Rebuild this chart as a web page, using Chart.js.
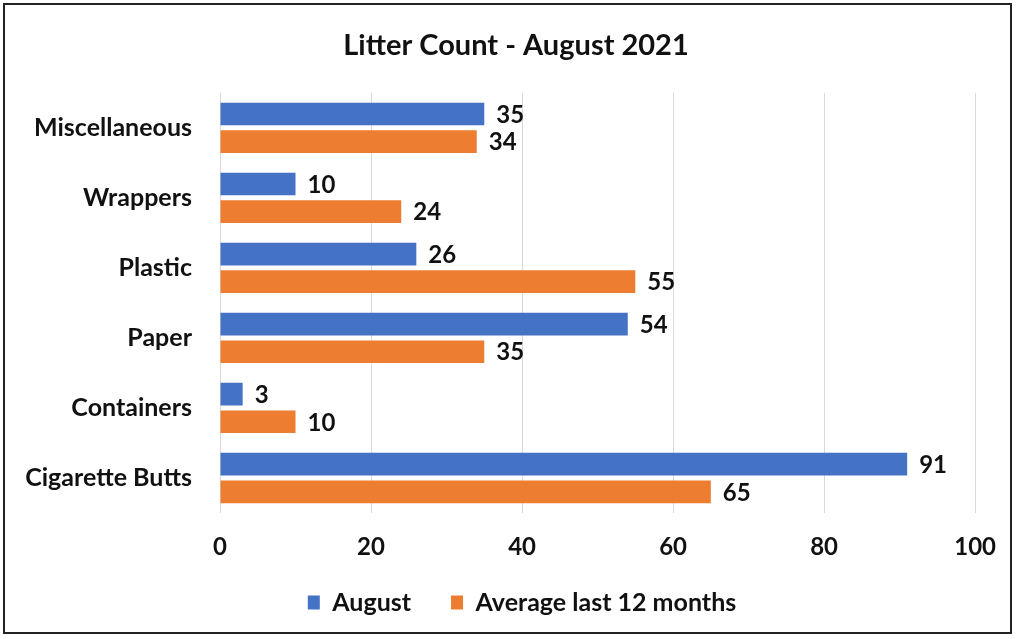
<!DOCTYPE html>
<html>
<head>
<meta charset="utf-8">
<script src="https://cdn.jsdelivr.net/npm/chart.js@4/dist/chart.umd.min.js"></script>
<style>
  body { margin: 0; background: #fff; }
  #wrap { position: relative; width: 1016px; height: 639px; }
  #frame { position: absolute; left: 3px; top: 3px; width: 1005px; height: 627px; border: 2px solid #222; pointer-events: none; }
</style>
</head>
<body>
<div id="wrap">
  <canvas id="chart" width="1016" height="639"></canvas>
  <div id="frame"></div>
</div>
<script>
const categories = ["Miscellaneous", "Wrappers", "Plastic", "Paper", "Containers", "Cigarette Butts"];
const august = [35, 10, 26, 54, 3, 91];
const avg12 = [34, 24, 55, 35, 10, 65];
const seriesNames = ["August", "Average last 12 months"];

const FONT = "Lato, 'Open Sans', sans-serif";

// values written just past the end of each bar
const barLabels = {
    id: "barLabels",
    afterDatasetsDraw(chart) {
        const {ctx} = chart;
        ctx.save();
        ctx.font = "bold 24px " + FONT;
        ctx.fillStyle = "#111";
        ctx.textAlign = "left";
        ctx.textBaseline = "middle";
        chart.data.datasets.forEach((ds, i) => {
            chart.getDatasetMeta(i).data.forEach((bar, j) => {
                ctx.fillText(ds.data[j], bar.x + 12, bar.y + 1);
            });
        });
        ctx.restore();
    }
};

// title and legend sit a bit right of the canvas centre in the original
const nudgeBoxes = {
    id: "nudgeBoxes",
    afterLayout(chart) {
        chart.titleBlock.left = 54;
        const lg = chart.legend;
        lg.left = 66;
        lg.top = 550;
        lg.bottom = lg.top + lg.height;
    }
};

new Chart(document.getElementById("chart").getContext("2d"), {
    type: "bar",
    data: {
        labels: categories,
        datasets: [
            {label: seriesNames[0], data: august, backgroundColor: "#4472C4",
             categoryPercentage: 0.79, barPercentage: 0.82},
            {label: seriesNames[1], data: avg12, backgroundColor: "#ED7D31",
             categoryPercentage: 0.79, barPercentage: 0.82}
        ]
    },
    options: {
        indexAxis: "y",
        responsive: false,
        animation: false,
        layout: {padding: {left: 0, right: 38, top: 0, bottom: 2}},
        plugins: {
            title: {
                display: true,
                text: "Litter Count - August 2021",
                color: "#111",
                font: {family: FONT, size: 29, weight: "bold"},
                padding: {top: 28, bottom: 30}
            },
            legend: {
                position: "bottom",
                labels: {
                    color: "#111",
                    font: {family: FONT, size: 25, weight: "bold"},
                    boxWidth: 12, boxHeight: 14, padding: 40
                }
            },
            tooltip: {enabled: false}
        },
        scales: {
            x: {
                min: 0, max: 100,
                ticks: {stepSize: 20, color: "#111", padding: 20,
                        font: {family: FONT, size: 24, weight: "bold"}},
                grid: {color: "#d9d9d9", drawTicks: false},
                border: {display: false},
                afterFit(scale) { scale.height = 49; }
            },
            y: {
                ticks: {color: "#111", padding: 28,
                        font: {family: FONT, size: 25, weight: "bold"}},
                grid: {display: false, drawTicks: false},
                border: {display: false},
                afterFit(scale) { scale.width = 220; }
            }
        }
    },
    plugins: [barLabels, nudgeBoxes]
});
</script>
</body>
</html>
